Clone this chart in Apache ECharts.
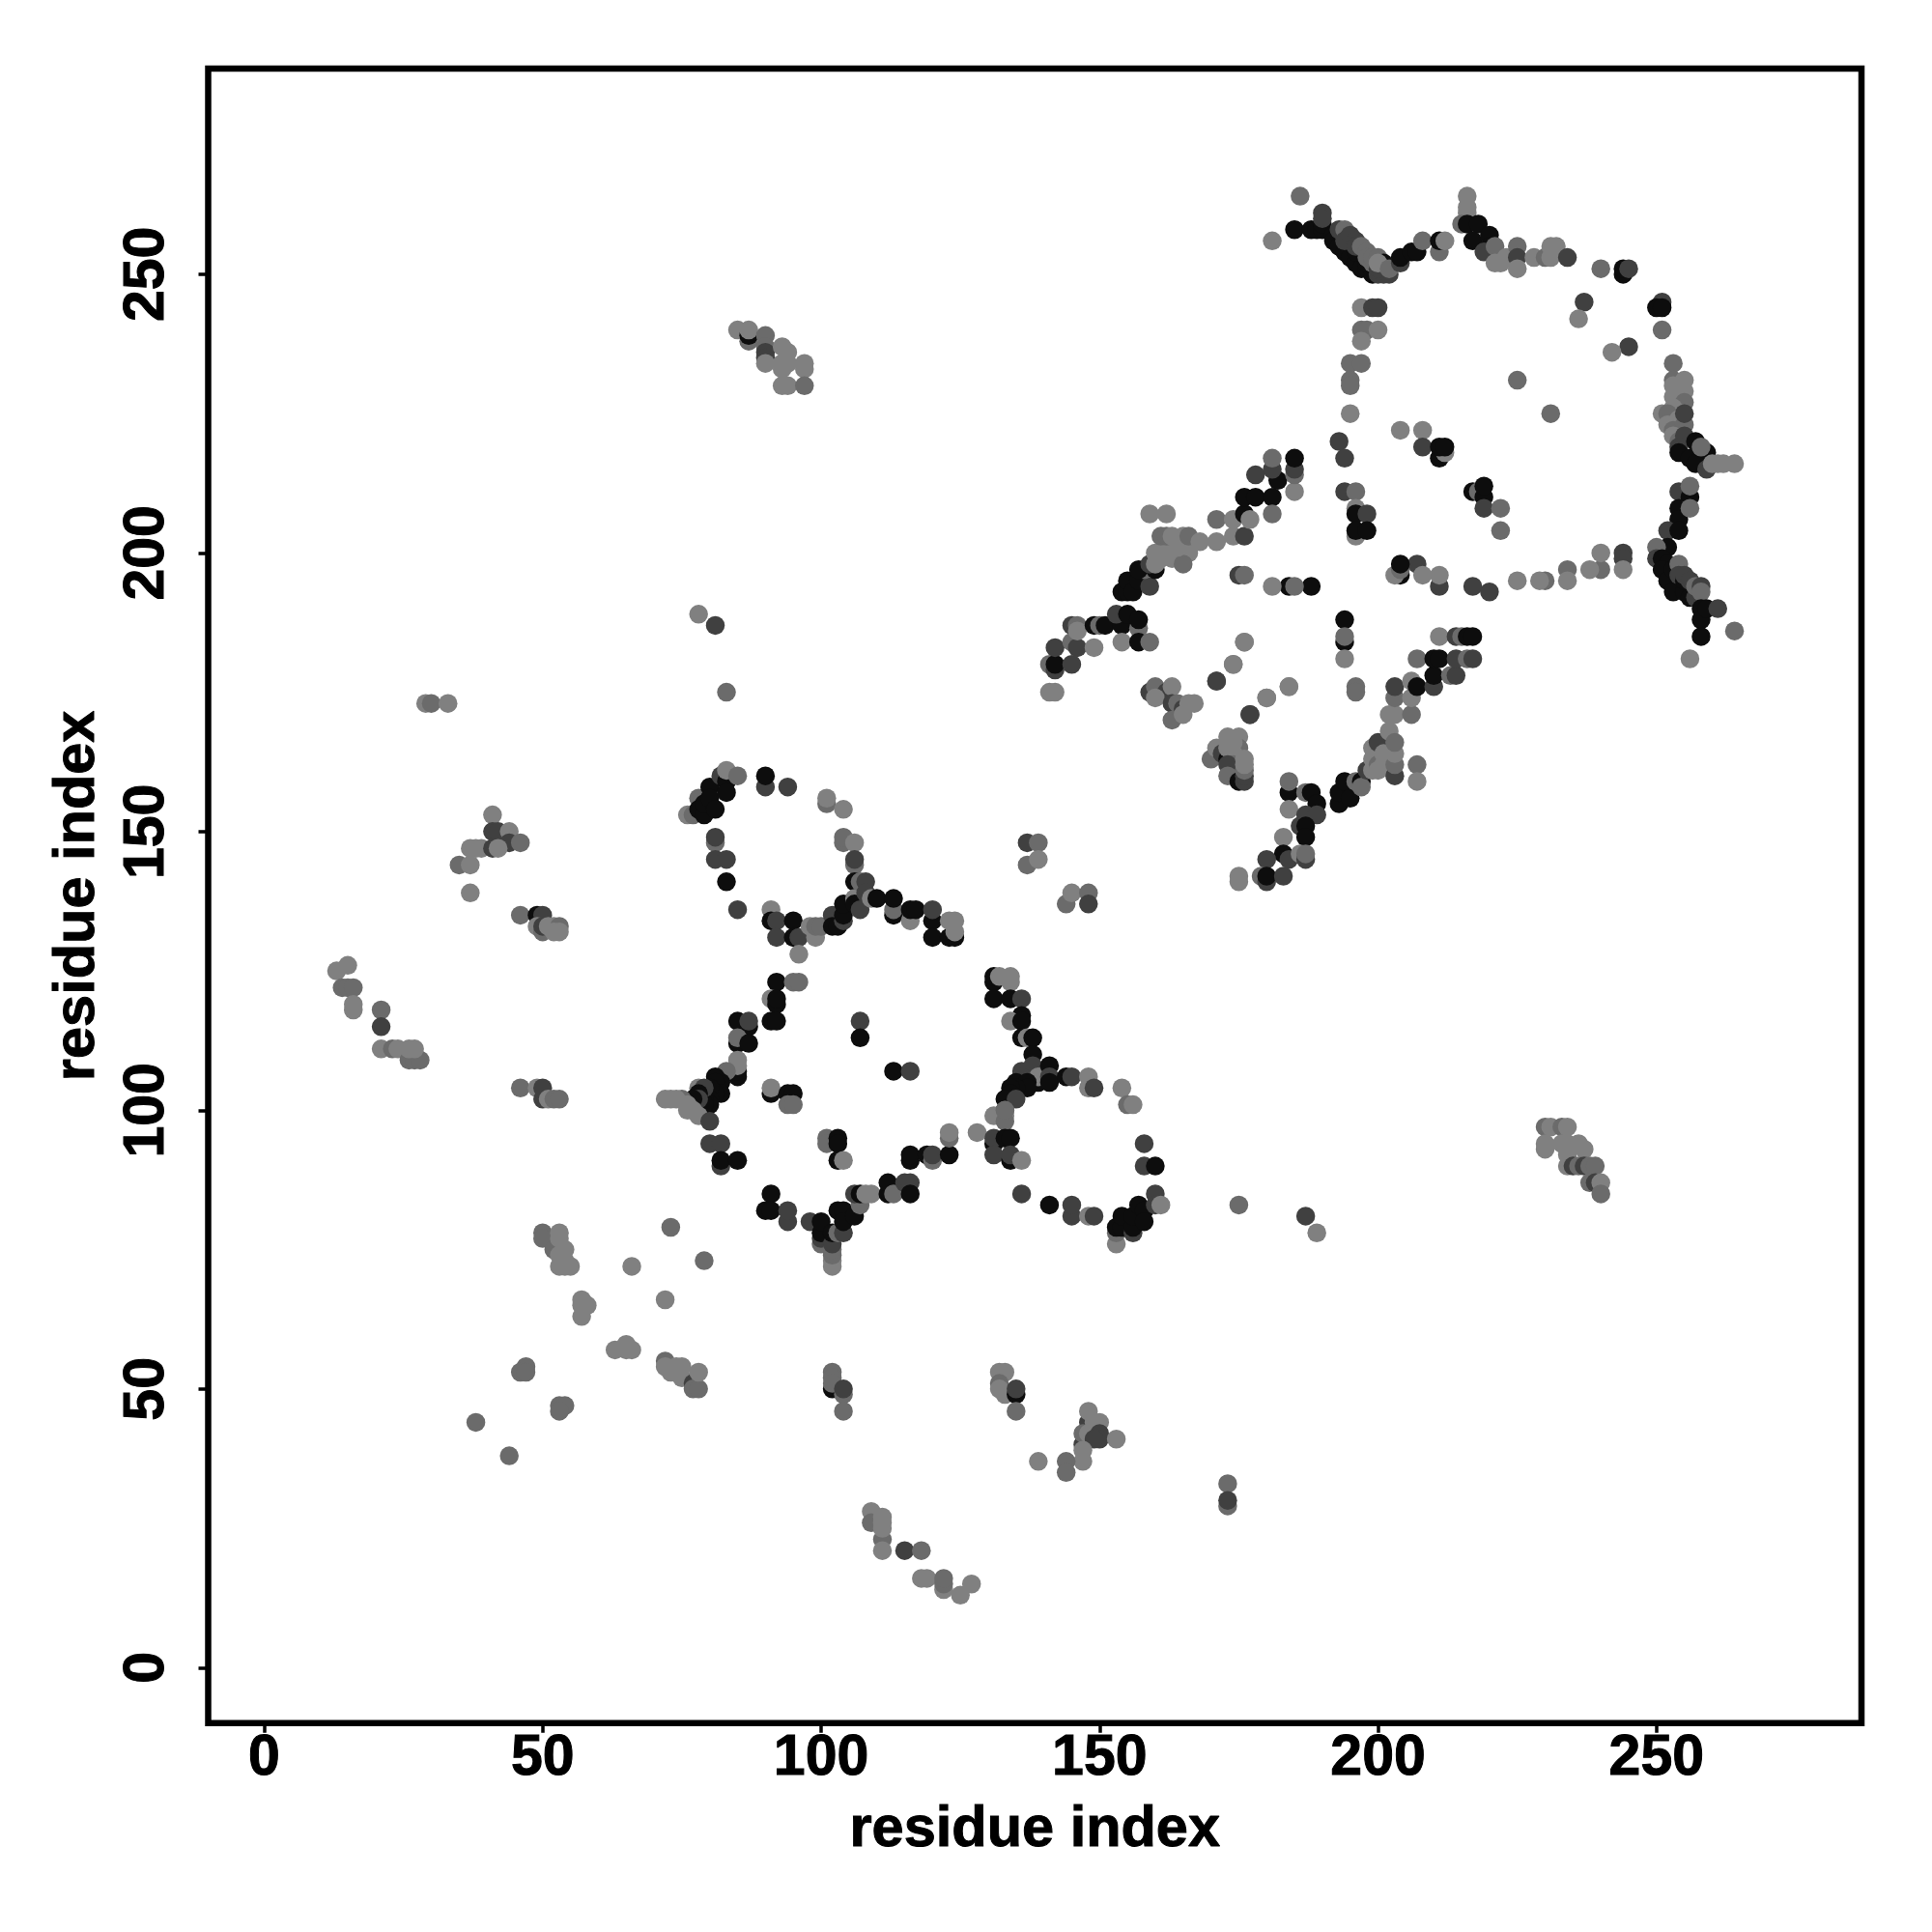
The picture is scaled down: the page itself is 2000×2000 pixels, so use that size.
<!DOCTYPE html>
<html><head><meta charset="utf-8">
<style>html,body{margin:0;padding:0;background:#fff}#c{width:2000px;height:2000px}</style>
<script src="https://cdn.jsdelivr.net/npm/echarts@6/dist/echarts.min.js"></script>
</head><body><div id="c"></div>
<script>
// contact scores: K strongest ... L weakest
const K=.95,D=.75,G=.58,L=.5;
const tickValues=[0,50,100,150,200,250];
const axisTitle='residue index';
const upperArc=[[181,256,L],[186,264,G],[185,258,K],[188,258,K],[189,258,K],[190,258,K],[190,259,K],[190,261,D],[190,260,D],
[192,257,K],[192,256,K],[193,255,K],[194,254,K],[195,253,K],[196,252,K],[197,251,K],[198,251,K],[199,250,K],[200,250,D],[201,250,D],[202,250,D],[196,254,K],[198,252,K],
[193,258,D],[194,258,G],[194,256,D],[195,257,D],[196,256,D],[196,255,D],[197,255,G],[198,254,G],[198,253,G],[199,252,G],[199,253,G],[200,253,G],[200,251,D],[201,252,K],[200,252,L],[202,251,G],[204,252,D],[204,253,K],[206,254,K],[207,254,K],[211,254,G],[208,256,G],[211,256,K],[212,256,L],
[216,264,L],[216,262,L],[216,261,L],[215,259,G],[216,259,K],[218,259,K],[217,256,K],[220,257,K],[220,255,K],[219,254,D],[221,255,G],[221,252,L],[222,252,L],[223,253,L],[225,255,G],[225,253,D],[225,251,L],[228,253,L],[230,253,G],[231,255,L],[232,255,L],[231,253,L],[234,253,D],
[240,251,G],[244,250,K],[244,251,K],[245,251,D]];
const upperRing=[[237,245,D],[236,242,L],[251,245,D],[250,244,K],[251,244,K],[251,240,G],[245,237,D],[242,236,L],[225,231,G],[231,225,G],
[197,244,L],[199,244,D],[200,244,D],[197,240,G],[198,240,G],[200,240,L],[197,238,L],[195,234,G],[197,234,G],[195,231,G],[195,230,G],[195,225,L],[193,220,D],[194,217,D],
[204,222,L],[208,222,L],[208,219,D],[211,217,K],[212,218,L],[211,219,K],[212,219,K],
[217,211,K],[218,211,G],[219,210,K],[219,212,K],[219,208,D],[222,208,G],[222,204,G],
[194,211,D],[196,211,G],[196,208,L],[196,207,K],[198,207,D],[196,203,L],[196,204,K],[198,204,K]];
const upperRight=[[253,234,G],[253,231,G],[253,230,L],[255,231,L],[254,229,L],[255,229,L],[253,228,L],[255,227,G],[253,226,L],[251,225,L],[252,225,G],[254,224,L],[252,223,L],[253,222,G],[255,223,G],[255,225,D],[253,221,L],[254,220,G],[255,221,D],[254,219,D],
[254,218,K],[257,220,K],[259,218,K],[256,217,K],[257,216,K],[258,219,G],[259,215,D],[260,216,L],[261,216,L],[262,216,L],[264,216,L],
[254,211,D],[256,210,K],[256,212,G],[254,208,K],[254,206,K],[256,208,G],[252,204,D],[254,204,K],[252,201,K],[250,201,G],[250,199,D],[251,199,K],[252,198,K],[251,197,K],[252,195,K],[253,197,K],[253,193,K],[255,193,K],[256,192,K],[254,198,G],[254,196,D],[255,195,K],[255,196,D],[256,195,D],[257,192,D],[257,194,G],[258,194,D],[258,193,G],
[258,190,K],[258,188,K],[259,190,K],[261,190,D],[258,185,K],[264,186,G],[256,181,L]];
const upperBottom=[[244,200,D],[244,199,D],[244,197,L],[240,197,G],[240,200,L],[238,197,L],[234,197,G],[234,195,L],[230,195,G],[229,195,L],[225,195,L],[220,193,D],[217,194,D],
[211,194,D],[211,196,L],[207,198,D],[208,196,L],[204,196,K],[203,196,L],[204,197,G],[204,198,K],
[188,194,K],[184,194,K],[185,194,G],[181,194,L],[175,196,D],[176,196,G],
[194,188,K],[194,184,K],[194,185,G],[194,181,L],[176,184,L],[174,180,L],[171,177,D],[184,176,L],[180,174,L],[177,171,D],[196,176,G],[196,175,G]];
const upperLeftArm=[[141,175,L],[142,175,L],[141,180,G],[142,179,D],[142,180,K],[145,180,D],[142,183,D],[145,184,G],[146,183,D],[149,183,L],[145,187,D],[146,187,G],[146,186,L],[149,187,K],[150,187,G],[151,187,K],[154,187,K],[153,189,D],[155,189,K],[157,186.5,G],[157,188,K],[154,184,L],[157,184,K],[159,184,G],
[154,193,K],[155,193,K],[155,195,K],[156,193,K],[157,195,K],[159,194,D],[158,197,G],[160,197,K],[157,197,K],[159,198,D],[160,198,L],[161,199,L],[160,200,L],[163,199,L],[163,200,L],[165,200,L],[166,200,L],[165,198,G],[162,201,L],[164,201,L],[161,203,G],[162,203,G],[163,203,L],[165,203,L],[166,203,G],[168,202,L],[171,202,L],[171,206,G],[174,203,L],[176,203,D],[174,206,L],[176,207,K],[177,206,L],[176,210,K],[178,210,K],[181,210,K],[181,207,G],[185,211,L],[178,214,D],[182,213,K],[181,215,D],[181,217,G],[185,214,G],[185,215,D],[185,217,K],[159,207,L],[162,207,L]];
const upperCentre=[[159,175,D],[160,176,G],[162,175,D],[163,176,L],[160,174,L],[163,173,D],[164,173,G],[165,172,D],[166,173,L],[167,173,L],[163,170,G],[165,171,L],
[171,177,D],[174,180,L],[176,184,L],[177,171,D],[180,174,L],[184,176,L],
[170,163,G],[171,165,L],[172,164,D],[173,163,K],[173,167,L],[175,167,L],[173,165,L],[175,165,G],[174,166,L],[174,164,L],[175,163,L],[174,162,G],[173,162,D],[173,160,G],[175,159,K],[176,159,D],[176,160,D],[176,161,G],[176,162,L],[176,163,L]];
const lowerArmRight=[[184,157,K],[184,159,G],[184,154,L],[187,157,G],[188,157,K],[189,155,K],[187,153,D],[189,153,D],[186,151,D],[187,151,K],[187,149,K],[183,149,L],[183,146,K],[184,145,D],[186,146,L],[187,145,D],[187,146,G],[180,145,D],[179,142,G],[180,141,D],[180,142,K],[183,142,D],[175,142,L],[175,141,L],
[193,155,K],[193,157,K],[194,159,K],[195,156,K],[196,159,G],[197,159,K],[197,158,G],[198,161,D],[199,161,L],[199,163,L],[199,165,L],[200,163,L],[200,162,G],[200,161,L],[200,166,D],[201,164,L],[201,162,L],[202,168,L],[203,160,D],[203,162,G],[203,164,L],[203,166,G],[207,162,G],[207,159,L],
[202,171,L],[203,171,L],[206,171,G],[203,174,G],[203,176,D],[206,174,L],[206,177,L],[207,176,K],[207,181,G],[210,176,D],[210,178,K],[210,181,K],[211,181,K],[213,178,G],[214,178,D],[214,181,D],[216,181,G],[217,181,D],[211,185,L],[214,185,D],[215,185,G],[216,185,K],[217,185,K]];
const lowerRingTop=[[76,153,L],[77,153,G],[78,156,G],[78,154,K],[79,153,K],[79,155,K],[80,158,K],[80,156,K],[81,154,K],[82,160,D],[83,159,K],[83,157,K],[83,161,L],[85,160,G],[90,158,D],[90,160,K],[94,158,D],[101,155,G],[101,156,L],[104,154,L],[104,148,G],[104,149,G],[106,148,L],[106,144,G],[106,145,D],[81,148,G],[81,149,D],[81,145,D],[83,145,D],[83,141,K],[85,136,D],
[91,136,L],[91,134,K],[92,134,D],[92,131,D],[95,134,K],[95,131,K],[96,131,D],[96,128,L],[98,133,L],[99,131,L],[99,133,G],[100,133,G],[102,135,D],[102,133,K],[103,133,K],[104,134,D],[104,135,K],[104,137,K],[106,141,K],[106,138,L],[106,137,K],[107,141,G],[107,136,D],[108,141,D],[108,139,D],[109,138,L],[110,138,K],[113,135,K],[113,136,G],[113,138,K],[116,134,L],[116,136,K],[117,136,K],[120,134,K],[120,136,D],[120,131,K],[123,131,K],[124,131,K],[123,134,L],[124,134,L],[124,132,L]];
const lowerRingLeft=[[92,123,K],[95,123,G],[96,123,G],[91,120,L],[92,119,K],[92,120,K],[91,116,K],[92,116,K],[85,116,K],[87,115,K],[87,116,D],[85,112,K],[85,113,G],[87,112,K],[85,106,K],[85,107,K],[85,108,L],[85,109,L],[83,107,G],[82,105,K],[81,106,K],[81,105,K],[82,103,K],[81,103,K],[80,104,K],[80,102,K],[80,101,K],[79,102,K],[79,101,K],[78,104,L],[79,104,D],[78,103,K],[78,102,D],[77,102,K],[75,102,G],[74,102,L],[73,102,L],[72,102,L],[76,101,L],[77,100,L],[76,100,L],[78,99,L],[80,98,D],
[107,116,D],[107,113,K],[113,107,K],[116,107,D],[91,103,K],[91,104,L],[94,103,K],[95,103,K],[94,101,G],[95,101,G]];
const lowerRingRight=[[131,123,K],[131,124,K],[132,124,L],[134,124,L],[134,123,L],[131,120,K],[134,120,K],[136,120,D],[136,117,K],[134,116,L],[136,116,K],[136,113,K],[137,113,L],[138,113,K],[138,110,K],[136,107,D],[137,107,D],[138,108,D],[138,106,D],[139,105,K],[139,106,L],[141,108,K],[141,106,D],[141,105,K],[136,105,K],[136,106,D],[135,105,K],[137,105,K],[137,104,K],[135,104,K],[134,104,K],[134,103,K],[133,102,K],[135,102,D],[133,100,D],[131,99,L],[133,99,L],[133,98,G],
[144,106,K],[145,106,D],[148,106,L],[148,104,L],[149,104,D],[154,104,L],[155,101,G],[156,101,L]];
const lowerRingBottom=[[80,94,D],[82,94,D],[82,90,D],[82,91,K],[85,91,K],[91,85,K],[90,82,K],[91,82,K],[94,80,D],[94,82,D],[98,80,D],[101,95,G],[101,94,G],[103,95,K],[103,94,K],[103,91,K],[104,91,L],
[100,76,G],[100,77,D],[100,78,K],[100,80,K],[102,72,L],[102,73,L],[102,74,G],[102,75,G],[102,76,D],[102,78,K],[103,78,G],[104,78,D],[103,82,K],[104,82,K],[104,80,K],[106,81,K],[107,83,G],[106,85,D],[107,85,K],[108,85,L],[109,85,L],[112,85,K],[112,87,K],[113,85,G],[115,87,D],[116,87,D],[116,85,K],[116,91,K],[116,92,K],[119,92,K],[120,91,G],[120,92,D],[123,92,K],[123,95,G],[123,96,L],
[128,96,L],[131,94,K],[131,95,D],[133,95,K],[134,95,K],[133,100,G],[131,92,D],[134,91,K],[134,92,D],[136,91,L],[136,85,D],[141,83,K],[145,81,D],[145,83,D],[148,81,L],[149,81,D],
[158,94,D],[158,90,D],[160,90,K],[160,85,D],[153,76,L],[153,78,G],[153,79,K],[154,79,K],[154,81,K],[156,78,D],[156,79,K],[156,81,K],[157,83,K],[158,82,K],[158,80,K],[160,83,D],[161,83,L]];
const offDiagonal=[[137,148,D],[139,148,G],[137,144,G],[139,145,L],[144,137,G],[145,139,L],[148,139,G],[148,137,D],[175,83,G],[187,81,D],[189,78,L],[78,189,L],[81,187,D],[83,175,G],
[85,240,L],[87,238,G],[87,239,K],[87,240,L],[90,239,G],[90,237,G],[90,236,D],[90,235,D],[90,234,L],[93,237,L],[94,236,L],[93,234,L],[94,234,L],[93,233,L],[93,230,L],[94,230,L],[97,234,L],[97,233,L],[97,230,G],
[230,97,G],[231,97,L],[233,97,G],[234,97,L],[230,94,L],[230,93,L],[233,94,L],[234,94,L],[236,94,L],[237,93,L],[234,92,L],[234,90,L],[235,90,D],[236,90,G],[237,90,D],[238,90,G],[239,90,G],[238,87,G],[239,87,D],[240,87,L],[240,85,G]];
const farLeft=[[29,173,L],[30,173,G],[33,173,L],[41,153,L],[41,150,D],[42,150,D],[44,150,L],[44,148,D],[46,148,G],[37,147,L],[38,147,L],[39,147,L],[41,147,D],[42,147,L],[35,144,G],[37,144,L],[37,139,L],
[46,135,G],[49,135,K],[50,135,D],[49,133,L],[50,132,G],[50,133,D],[51,133,L],[52,133,L],[53,133,G],[52,132,L],[53,132,L],
[15,126,L],[13,125,L],[14,122,G],[15,122,G],[16,122,G],[16,119,L],[16,118,L],[21,118,G],[21,115,D],[21,111,L],[23,111,G],[24,111,L],[26,109,G],[27,109,G],[28,109,G],[26,111,L],[27,111,L],
[46,104,G],[49,104,L],[50,102,D],[50,104,D],[51,102,L],[52,102,G],[53,102,G]];
const lowerLeft=[[50,78,G],[50,77,G],[52,75,G],[53,78,L],[53,77,L],[54,75,L],[53,74,L],[54,73,L],[53,72,L],[54,72,L],[55,72,L],[73,79,G],[79,73,G],[66,72,L],[72,66,L],[57,66,L],[58,65,L],[57,65,L],[57,63,L],[63,57,L],[65,58,L],[65,57,L],[66,57,L],
[72,55,G],[72,54,L],[73,53,L],[74,54,L],[75,54,L],[75,52,L],[77,51,D],[77,50,G],[78,50,G],[78,53,L],[47,54,G],[46,53,G],[47,53,G],[53,47,G],[54,47,G],[53,46,G],[38,44,G],[44,38,G]];
const lowerCentre=[[102,50,K],[102,53,G],[102,52,G],[102,51,G],[104,49,G],[104,50,D],[104,46,G],[132,53,L],[133,53,L],[132,51,G],[132,50,L],[133,49,L],[135,49,K],[135,50,D],[135,46,G],
[147,40,D],[148,44,D],[147,42,G],[148,42,L],[148,46,L],[149,44,L],[150,44,L],[150,42,D],[150,41,D],[149,41,D],[153,41,L],[147,39,L],[147,37,L],[139,37,L],[144,37,G],[144,35,G],[173,33,G],[173,29,G],[173,30,D],
[109,28,L],[109,26,G],[111,23,G],[111,27,L],[111,26,L],[111,25,L],[111,21,L],[115,21,D],[118,21,G],[118,16,L],[119,16,L],[122,14,L],[122,15,G],[122,16,G],[127,15,L],[125,13,L]];

const points=[].concat(upperArc,upperRing,upperRight,upperBottom,upperLeftArm,upperCentre,lowerArmRight,lowerRingTop,lowerRingLeft,lowerRingRight,lowerRingBottom,offDiagonal,farLeft,lowerLeft,lowerCentre);
const font='"Liberation Sans"';
const heavy={fontFamily:font,fontWeight:'bold',color:'#000',textBorderColor:'#000',textBorderWidth:1};
const axis=(extra)=>Object.assign({type:'value',name:axisTitle,nameLocation:'middle',
  nameTextStyle:Object.assign({fontSize:59.5},heavy),
  axisLine:{show:false,onZero:false},splitLine:{show:false},
  axisTick:{show:true,length:10,lineStyle:{color:'#000',width:3.5},customValues:tickValues}},extra);
const chart=echarts.init(document.getElementById('c'),null,{renderer:'canvas'});
chart.setOption({animation:false,backgroundColor:'#fff',
  grid:{show:true,left:215.5,top:71,right:73,bottom:216.3,borderColor:'#000',borderWidth:6.5,backgroundColor:'#fff'},
  xAxis:axis({min:-10.06,max:286.8,nameGap:81,
    axisLabel:Object.assign({fontSize:59,margin:8,customValues:tickValues},heavy)}),
  yAxis:axis({min:-9.95,max:286.9,nameGap:105,
    axisLabel:Object.assign({fontSize:59,margin:33,rotate:90,customValues:tickValues},heavy)}),
  series:[{type:'scatter',symbol:'circle',symbolSize:19.5,large:false,progressive:0,data:points,
    itemStyle:{opacity:1,color:(p)=>{const g=Math.round(255*(1-p.value[2]));return `rgb(${g},${g},${g})`;}}}]
});
</script></body></html>
